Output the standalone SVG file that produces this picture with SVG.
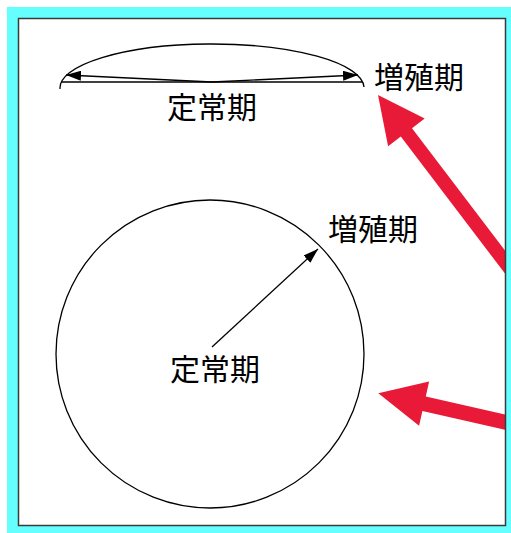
<svg xmlns="http://www.w3.org/2000/svg" width="511" height="533" viewBox="0 0 511 533">
<style>
.lbl{font-family:"Noto Sans CJK JP","Noto Sans",sans-serif;font-size:30px;fill:#000;text-anchor:middle}
.ln{fill:none;stroke:#000;stroke-width:1.3}
.red{fill:#e81a37}
</style>
<defs>
<marker id="ah" markerUnits="userSpaceOnUse" markerWidth="15" markerHeight="10" refX="15" refY="5" orient="auto">
<path d="M0,0 L15,5 L0,10 z" fill="#000"/>
</marker>
<clipPath id="inner"><rect x="19" y="19" width="486" height="506"/></clipPath>
</defs>
<rect x="7" y="7" width="504" height="526" fill="#66ffff"/>
<rect x="18.5" y="18.5" width="487" height="507" fill="#fff"/>
<g id="ellipse-view">
<path class="ln" d="M60,89 A152,44 0 0 1 364,87"/>
<line class="ln" x1="61" y1="82" x2="363" y2="82" stroke-width="1.6"/>
</g>
<g id="circle-view">
<circle class="ln" cx="210" cy="354" r="154"/>
</g>
<g id="connectors">
<line class="ln" x1="212" y1="82" x2="66" y2="75" marker-end="url(#ah)"/>
<line class="ln" x1="212" y1="82" x2="358" y2="75" marker-end="url(#ah)"/>
<line class="ln" x1="212" y1="347" x2="318" y2="249" marker-end="url(#ah)"/>
</g>
<g id="label-top-proliferation"><text class="lbl" x="419" y="88">増殖期</text></g>
<g id="label-top-stationary"><text class="lbl" x="212" y="118">定常期</text></g>
<g id="label-circle-proliferation"><text class="lbl" x="373" y="240">増殖期</text></g>
<g id="label-circle-stationary"><text class="lbl" x="215" y="380">定常期</text></g>
<g id="red-arrows" clip-path="url(#inner)">
<polygon class="red" points="378,95 424.7,118.5 412,128.2 535.7,290.9 524.6,299.3 400.8,136.6 388.1,146.3"/>
<polygon class="red" points="378.3,393.3 429.1,381.6 425.8,396.4 536,421.5 532.6,436.1 422.4,411 419.1,425.8"/>
</g>
<rect x="18.5" y="18.5" width="487" height="507" fill="none" stroke="#3a3a3a" stroke-width="1.5"/>
</svg>
